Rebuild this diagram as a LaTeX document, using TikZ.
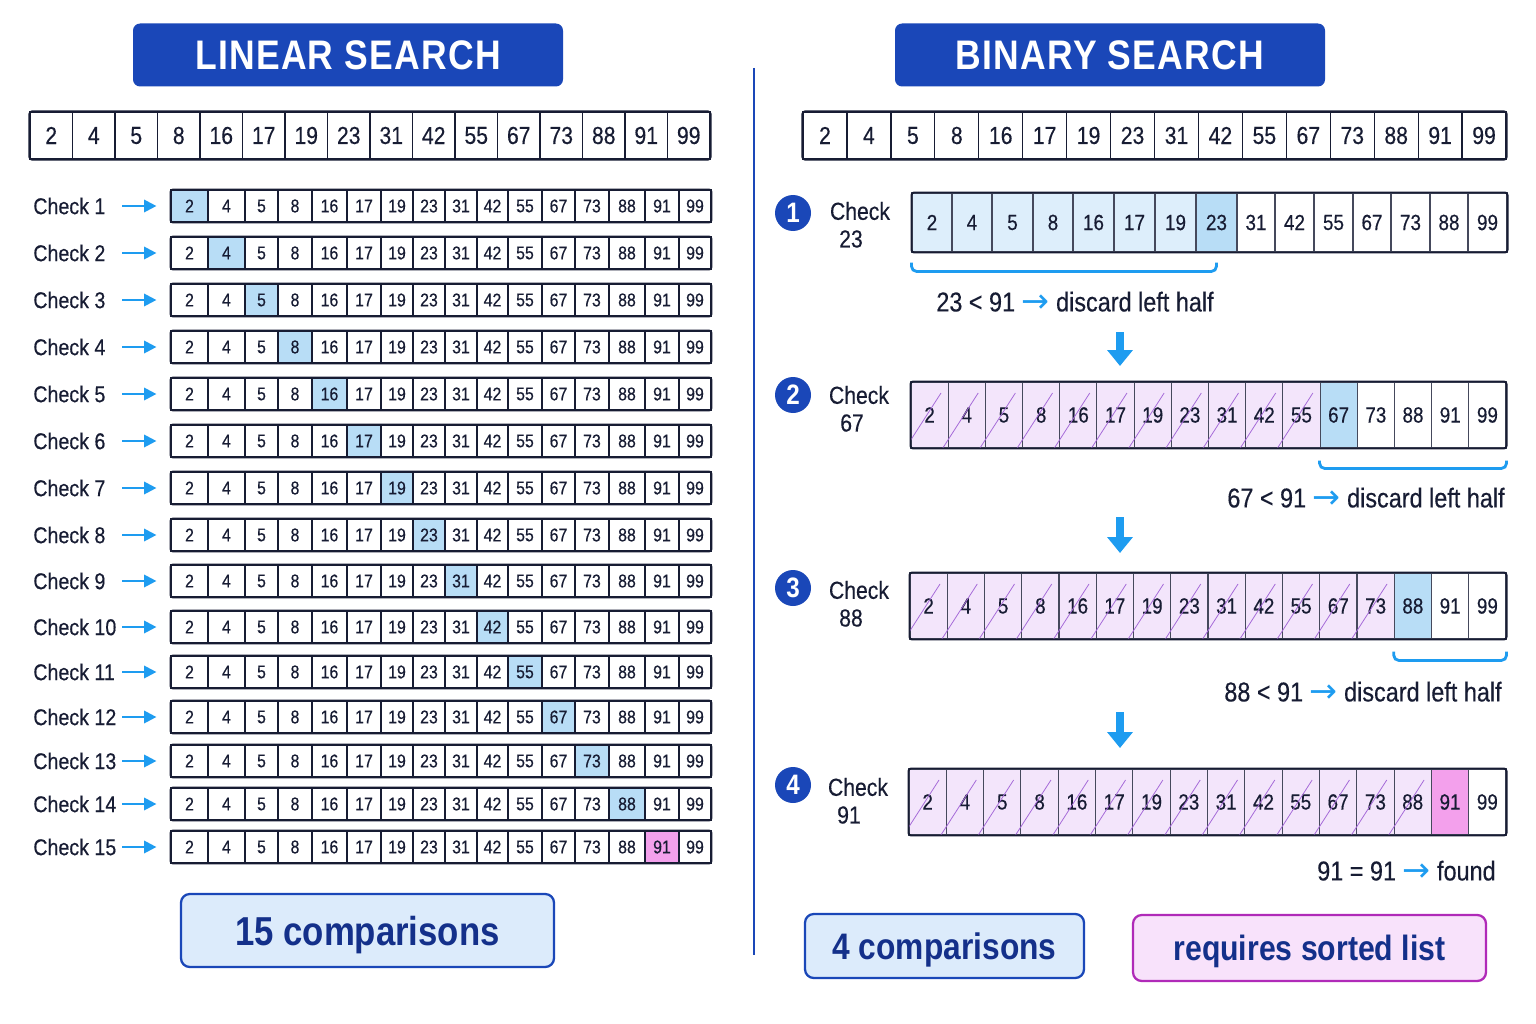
\documentclass[tikz,border=0pt]{standalone}
\usepackage{fontspec}
\setmainfont{Liberation Sans}[FakeStretch=0.86, UprightFeatures={FakeBold=0.35}]
\newfontfamily\arrowfont{DejaVu Sans}
\usetikzlibrary{arrows.meta,calc}
\definecolor{tblue}{HTML}{1A47B8}
\definecolor{ink}{HTML}{171C33}
\definecolor{abl}{HTML}{1E9CF0}
\definecolor{hl}{HTML}{B8DDF6}
\definecolor{lb}{HTML}{DDEEFB}
\definecolor{hatchfill}{HTML}{F3E5FB}
\definecolor{hatchline}{HTML}{A56AD8}
\definecolor{pinkhl}{HTML}{F3A0EC}
\definecolor{boxblue}{HTML}{DCEBFB}
\definecolor{boxpink}{HTML}{F8E2FB}
\definecolor{boxpinkline}{HTML}{B02AB8}
\definecolor{boxtext}{HTML}{14308A}
\newcommand\fsz[1]{\fontsize{#1}{#1}\selectfont}
\newcommand\blarr{{\arrowfont\fsz{19}\color{abl}\raisebox{-0.5pt}{→}}}
\def\px{0.02cm}
\tikzset{
  title/.style={fill=tblue, rounded corners=4pt, minimum width={430*\px}, minimum height={63*\px}, text=white, font=\fsz{23.5}\bfseries\addfontfeature{LetterSpace=3}, inner sep=0},
  tcell/.style={draw=ink, line width=0.7pt, inner sep=0, minimum height={47*\px}, text=ink, font=\fsz{14}},
  lcell/.style={draw=ink, line width=0.6pt, inner sep=0, minimum height={32*\px}, text=ink, font=\fsz{10.5}},
  bcell/.style={draw=ink!80, line width=0.6pt, inner sep=0, text=ink, font=\fsz{12.5}},
  frame/.style={draw=ink, line width=1.1pt, rounded corners=1.5pt},
  lab/.style={text=ink, font=\fsz{13}, inner sep=0},
  blab/.style={text=ink, font=\fsz{14}, inner sep=0},
  arr/.style={draw=abl, line width=1.3pt, -{Triangle[length=7pt,width=7pt]}},
  downarr/.style={draw=abl, line width=4pt, -{Triangle[length=9pt,width=14pt]}},
  brk/.style={draw=abl, line width=1.6pt, rounded corners=3pt},
  numc/.style={circle, fill=tblue, minimum size={36*\px}, inner sep=0, text=white, font=\fsz{16}\bfseries},
  cmp/.style={text=ink, font=\fsz{15.5}, inner sep=0},
  sumbox/.style={rounded corners=5pt, line width=1.3pt, text=boxtext, inner sep=0, text depth=0pt},
  hatch/.style={draw=hatchline, line width=0.45pt},
}
\begin{document}
\begin{tikzpicture}[x=0.02cm, y=-0.02cm]
\useasboundingbox[fill=white] (0,0) rectangle (1536,1024);

% titles
\node[title] (tl) at (348,55) {LINEAR SEARCH};
\node[title] (tb) at (1110,55) {BINARY SEARCH};

% divider
\coordinate (dv1) at (754,68);
\coordinate (dv2) at (754,955);
\draw[tblue, line width=1.2pt] (dv1) -- (dv2);

% top arrays
\def\vals{{2,4,5,8,16,17,19,23,31,42,55,67,73,88,91,99}}
\foreach \i in {0,...,15} {
  \pgfmathtruncatemacro\vv{\vals[\i]}
  \node[tcell, minimum width={42.5*\px}] (TL-\i) at ({30+42.5*(\i+0.5)},135.5) {\vv};
  \node[tcell, minimum width={43.94*\px}] (TB-\i) at ({803+43.94*(\i+0.5)},135.5) {\vv};
}
\draw[frame] (TL-0.north west) rectangle (TL-15.south east);
\draw[frame] (TB-0.north west) rectangle (TB-15.south east);

% linear rows
\def\LB{{171,208,245,278,312,347,381,413,445,477,508,542,575,609,645,679,711}}
\foreach \r/\c in {1/206,2/253,3/300,4/347,5/394,6/441,7/488,8/535,9/581,10/627,11/672,12/717,13/761,14/804,15/847} {
  \node[lab, anchor=west] (lc\r) at (33,\c) {Check \r};
  \foreach \i in {0,...,15} {
    \pgfmathsetmacro\xa{\LB[\i]}
    \pgfmathsetmacro\xb{\LB[\i+1]}
    \pgfmathtruncatemacro\vv{\vals[\i]}
    \pgfmathtruncatemacro\k{\i+1}
    \ifnum\k=\r \ifnum\r=15 \def\cf{pinkhl}\else\def\cf{hl}\fi\else\def\cf{white}\fi
    \node[lcell, fill=\cf, minimum width={(\xb-\xa)*\px}] (L\r-\i) at ({(\xa+\xb)/2},\c) {\vv};
  }
  \draw[frame] (L\r-0.north west) rectangle (L\r-15.south east);
  \coordinate (as\r) at (122,\c);
  \draw[arr] (as\r) -- ([xshift=-8pt]L\r-0.west);
}

% binary row 1
\def\BA{{912,952,992,1033,1073,1114,1155,1196,1237,1275,1314,1353,1391,1430,1468,1507}}
\def\bvals{{2,4,5,8,16,17,19,23,31,42,55,67,73,88,99}}
\foreach \i in {0,...,14} {
  \pgfmathsetmacro\xa{\BA[\i]}
  \pgfmathsetmacro\xb{\BA[\i+1]}
  \pgfmathtruncatemacro\vv{\bvals[\i]}
  \ifnum\i<7 \def\cf{lb}\else\ifnum\i=7 \def\cf{hl}\else\def\cf{white}\fi\fi
  \node[bcell, fill=\cf, minimum width={(\xb-\xa)*\px}, minimum height={59*\px}] (B1-\i) at ({(\xa+\xb)/2},222.5) {\vv};
}
\draw[frame] (B1-0.north west) rectangle (B1-14.south east);

% binary rows 2-4
\foreach \r/\c/\xl/\nh/\hc in {2/415/911/11/hl, 3/606/910/13/hl, 4/802/909/14/pinkhl} {
  \pgfmathsetmacro\w{(1506-\xl)/16}
  \foreach \i in {0,...,15} {
    \pgfmathtruncatemacro\vv{\vals[\i]}
    \ifnum\i<\nh \def\cf{hatchfill}\else\ifnum\i=\nh \def\cf{\hc}\else\def\cf{white}\fi\fi
    \node[bcell, fill=\cf, minimum width={\w*\px}, minimum height={66*\px}] (B\r-\i) at ({\xl+\w*(\i+0.5)},\c) {\vv};
  }
  \begin{scope}
    \clip (\xl,\c-33) rectangle ({\xl+\nh*\w},\c+33);
    \foreach \i in {0,...,15} {
      \ifnum\i<\nh
        \draw[hatch] ({\xl+\w*\i-6},\c+34) -- ({\xl+\w*\i+30},\c-22);
      \fi
    }
  \end{scope}
  \draw[frame] (B\r-0.north west) rectangle (B\r-15.south east);
}

% number circles and labels
\node[numc] (n1) at (793,213) {1};
\node[numc] (n2) at (793,395) {2};
\node[numc] (n3) at (793,588) {3};
\node[numc] (n4) at (793,785) {4};
\node[blab] (c1a) at (860,211) {Check};
\node[blab] (c1b) at (851,239) {23};
\node[blab] (c2a) at (859,395) {Check};
\node[blab] (c2b) at (852,423) {67};
\node[blab] (c3a) at (859,590) {Check};
\node[blab] (c3b) at (851,618) {88};
\node[blab] (c4a) at (858,787) {Check};
\node[blab] (c4b) at (849,815) {91};

% brackets
\draw[brk] ($(B1-0.south west)+(0,10)$) -- ($(B1-0.south west)+(0,19)$) -- ($(B1-7.south)+(0,19)$) -- ($(B1-7.south)+(0,10)$);
\draw[brk] ($(B2-11.south west)+(0,12)$) -- ($(B2-11.south west)+(0,20)$) -- ($(B2-15.south east)+(0,20)$) -- ($(B2-15.south east)+(0,12)$);
\draw[brk] ($(B3-13.south west)+(0,12)$) -- ($(B3-13.south west)+(0,21)$) -- ($(B3-15.south east)+(0,21)$) -- ($(B3-15.south east)+(0,12)$);

% comparison texts
\node[cmp, anchor=west] (t1) at (936,302) {23 < 91 \blarr{} discard left half};
\node[cmp, anchor=east] (t2) at (1505,498) {67 < 91 \blarr{} discard left half};
\node[cmp, anchor=east] (t3) at (1502,692) {88 < 91 \blarr{} discard left half};
\node[cmp, anchor=east] (t4) at (1496,871) {91 = 91 \blarr{} found};

% down arrows
\coordinate (d1a) at (1120,332); \coordinate (d1b) at (1120,366);
\coordinate (d2a) at (1120,517); \coordinate (d2b) at (1120,553);
\coordinate (d3a) at (1120,712); \coordinate (d3b) at (1120,748);
\draw[downarr] (d1a) -- (d1b);
\draw[downarr] (d2a) -- (d2b);
\draw[downarr] (d3a) -- (d3b);

% summary boxes
\node[sumbox, fill=boxblue, draw=tblue, minimum width={373*\px}, minimum height={73*\px}, font=\fsz{23}\bfseries, text height=16.5pt] (s1) at (367.5,930.5) {15 comparisons};
\node[sumbox, fill=boxblue, draw=tblue, minimum width={279*\px}, minimum height={64*\px}, font=\fsz{21}\bfseries, text height=15pt] (s2) at (944.5,946) {4 comparisons};
\node[sumbox, fill=boxpink, draw=boxpinkline, minimum width={353*\px}, minimum height={66*\px}, font=\fsz{20}\bfseries, text height=14.4pt] (s3) at (1309.5,948) {requires sorted list};
\end{tikzpicture}
\end{document}
